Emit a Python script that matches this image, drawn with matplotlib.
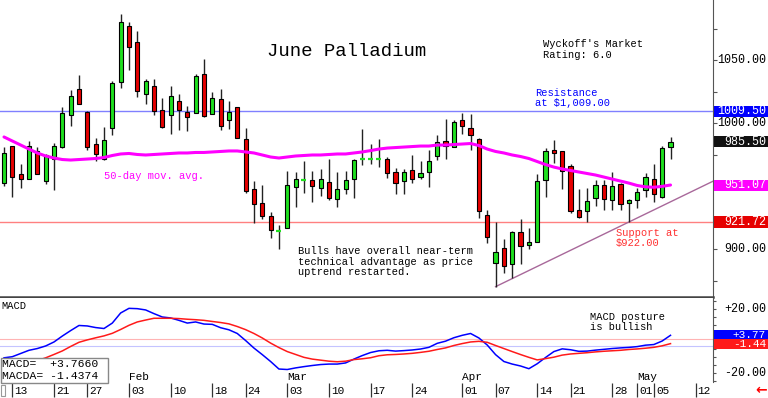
import numpy as np
import matplotlib
matplotlib.use('Agg')
import matplotlib.pyplot as plt
from matplotlib.patches import Rectangle
from matplotlib import transforms

plt.rcParams['font.family'] = ['Liberation Mono', 'DejaVu Sans']

# daily OHLC, June palladium (one entry per trading day)
opens = [952.4, 982.0, 959.8, 955.6, 978.3, 954.2, 971.4, 981.2, 1006.6, 1027.0,
         1009.0, 983.3, 971.4, 996.0, 1032.6, 1077.3, 1064.3, 1023.0, 1029.6, 1010.6,
         1006.6, 1017.5, 1009.3, 1007.9, 1039.2, 1007.2, 1019.3, 1002.4, 1013.2, 987.3,
         947.9, 936.5, 926.5, 914.6, 916.7, 949.2, 954.7, 955.0, 949.0, 953.2,
         939.7, 947.9, 955.6, 971.6, 971.9, 971.9, 971.4, 961.1, 954.5, 963.0,
         957.7, 961.7, 974.1, 986.0, 981.0, 1002.7, 996.3, 987.6, 927.3, 888.9,
         900.8, 888.4, 913.5, 903.5, 905.6, 955.0, 978.9, 978.1, 966.4, 931.2,
         930.4, 941.0, 951.1, 939.2, 951.9, 936.5, 939.2, 947.1, 955.8, 941.3,
         981.0]
highs = [981.5, 982.3, 967.5, 986.0, 981.5, 975.4, 984.7, 1013.2, 1026.5, 1038.6,
         1010.1, 988.1, 997.1, 1033.3, 1086.5, 1080.2, 1073.6, 1034.9, 1035.5, 1019.9,
         1029.9, 1023.6, 1013.8, 1038.9, 1051.3, 1024.6, 1027.0, 1018.0, 1013.2, 996.0,
         954.2, 950.8, 929.9, 919.3, 962.2, 961.1, 970.1, 962.2, 963.8, 971.4,
         961.1, 962.2, 971.4, 995.2, 983.3, 987.6, 973.6, 964.3, 963.5, 974.9,
         970.1, 978.9, 990.8, 1003.2, 1002.7, 1007.9, 1007.4, 988.6, 931.2, 921.9,
         907.9, 914.6, 924.1, 916.7, 959.8, 980.2, 986.8, 978.1, 967.5, 947.6,
         948.4, 955.0, 955.0, 961.7, 952.4, 939.7, 948.4, 960.3, 967.7, 982.3,
         989.4]
lows = [950.3, 941.8, 949.0, 955.6, 959.5, 951.6, 947.1, 980.7, 998.2, 1015.4,
        978.9, 970.1, 970.9, 990.8, 1028.3, 1042.3, 1021.2, 1015.4, 1006.6, 996.0,
        991.5, 994.7, 994.2, 1007.9, 1005.3, 1007.2, 994.7, 995.2, 988.1, 944.5,
        920.7, 924.1, 909.3, 900.0, 916.7, 933.9, 945.0, 937.8, 942.3, 939.2,
        933.4, 943.9, 940.5, 966.9, 967.5, 965.6, 956.4, 943.7, 943.9, 952.4,
        955.8, 949.2, 970.9, 971.7, 981.0, 991.3, 978.9, 924.6, 904.8, 870.4,
        881.0, 877.0, 888.1, 900.3, 905.6, 941.8, 968.8, 947.6, 928.6, 924.6,
        921.9, 934.7, 931.2, 931.2, 931.2, 921.7, 932.6, 941.8, 937.8, 940.5,
        971.7]
closes = [976.7, 957.7, 955.6, 982.0, 960.1, 974.9, 982.0, 1007.9, 1022.0, 1015.4,
          981.5, 975.9, 986.5, 1032.0, 1080.2, 1060.3, 1025.9, 1033.6, 1010.1, 996.8,
          1021.7, 1010.9, 1004.8, 1037.6, 1005.8, 1019.9, 997.9, 1009.3, 988.1, 946.6,
          935.7, 926.7, 915.4, 914.8, 951.1, 955.6, 954.8, 950.5, 955.8, 940.5,
          948.2, 954.8, 970.9, 971.7, 972.0, 972.0, 960.3, 952.4, 961.7, 955.8,
          960.3, 969.9, 985.5, 982.3, 1000.8, 998.2, 991.0, 930.4, 909.5, 897.6,
          887.0, 914.0, 902.9, 905.6, 954.2, 978.1, 976.7, 962.4, 930.7, 925.9,
          938.4, 951.1, 939.7, 950.3, 936.0, 939.2, 945.3, 957.1, 943.7, 980.7,
          985.5]
ma50 = [989.2, 986.0, 982.8, 979.6, 976.5, 974.1, 972.5, 971.3, 970.9, 971.3,
        971.7, 972.1, 972.9, 974.5, 975.7, 976.1, 975.3, 974.9, 975.3, 975.7,
        976.1, 976.5, 976.5, 976.9, 976.9, 977.3, 977.7, 978.1, 978.1, 977.3,
        976.5, 974.9, 973.3, 972.5, 973.3, 974.1, 974.5, 974.9, 974.9, 975.3,
        975.7, 975.7, 976.5, 977.3, 978.4, 979.6, 980.4, 980.8, 981.2, 981.6,
        982.0, 982.0, 982.8, 982.8, 983.2, 983.6, 984.0, 982.4, 979.6, 977.7,
        976.5, 974.9, 973.7, 972.1, 969.7, 967.3, 965.3, 963.8, 962.6, 961.4,
        960.2, 959.0, 957.4, 955.8, 954.2, 952.6, 950.7, 949.6, 949.3, 950.0,
        951.07]
macd = [-10.3, -9.6, -7.6, -5.6, -4.5, -2.9, -0.4, 3.3, 6.7, 9.9,
        9.6, 8.6, 8.0, 11.4, 17.7, 20.6, 20.4, 19.6, 17.3, 15.2,
        14.6, 13.1, 11.4, 12.1, 10.8, 10.6, 8.5, 7.2, 4.9, 0.5,
        -4.2, -8.3, -12.6, -17.3, -17.6, -16.6, -15.8, -15.1, -14.5, -14.2,
        -14.2, -13.5, -11.1, -8.9, -7.0, -5.9, -5.6, -6.1, -5.8, -5.4,
        -4.8, -3.75, -1.25, 0.1, 2.25, 3.75, 4.9, 2.1, -2.3, -8.3,
        -12.6, -14.2, -15.4, -17.1, -14.0, -10.1, -6.4, -4.7, -5.25, -6.25,
        -6.1, -5.5, -5.0, -4.5, -4.1, -3.8, -3.3, -2.4, -2.0, 0.2,
        3.766]
macd_avg = [-19.2, -17.3, -15.4, -13.8, -12.0, -10.3, -8.2, -6.0, -3.2, -0.6,
            0.9, 2.2, 3.4, 5.0, 7.4, 10.0, 12.1, 13.3, 14.4, 14.4,
            14.4, 14.2, 13.8, 13.5, 13.1, 12.4, 11.75, 10.9, 9.25, 7.3,
            4.9, 2.1, -1.1, -3.9, -6.4, -8.2, -10.0, -11.1, -11.75, -12.4,
            -12.75, -12.4, -11.4, -10.9, -10.25, -9.0, -8.4, -8.2, -7.9, -7.5,
            -6.9, -6.2, -5.1, -4.1, -2.6, -1.4, -0.4, 0.0, -0.6, -2.6,
            -4.5, -6.4, -8.25, -10.0, -11.6, -10.8, -9.9, -8.6, -7.9, -7.5,
            -7.1, -6.6, -6.2, -5.9, -5.6, -5.1, -4.75, -4.3, -3.75, -2.8,
            -1.4374]

tick_pos = [1, 6, 10, 15, 20, 25, 29, 34, 39, 44, 49, 55, 59, 64, 68, 73, 76, 78, 83]
tick_lbl = ['13', '21', '27', '03', '10', '18', '24', '03', '10', '17', '24',
            '01', '07', '14', '21', '28', '01', '05', '12']
months = ['Feb', 'Mar', 'Apr', 'May']
month_pos = [15, 34, 55, 76]

resistance = 1009.50
support = 921.72
trend_from, trend_to = 59, 75   # trend line drawn through these two lows
macd_ref_hi, macd_ref_lo = 1.25, -2.75

W, H = 768, 398
GREEN, RED, BLUE, MAG = '#1fe01f', '#e60000', '#0000ff', '#ff00ff'


def fx(px):
    return px / W


def fy(py):
    return 1 - py / H


fig = plt.figure(figsize=(7.68, 3.98), dpi=100)
ax = fig.add_axes([0, fy(297), fx(713), 297 / H])
ax2 = fig.add_axes([0, fy(382), fx(713), 84 / H])
ax3 = fig.add_axes([0, 0, fx(713), 16 / H])

xmin, xmax = -0.48, 85.1
for a in (ax, ax2, ax3):
    a.set_xlim(xmin, xmax)
    a.set_xticks([])
    for s in ('left', 'top', 'bottom', 'right'):
        a.spines[s].set_visible(False)

# ---- price panel
ax.set_ylim(862.2, 1097.9)
ax.spines['bottom'].set_visible(True)
ax.spines['bottom'].set_linewidth(1.8)
ax.spines['bottom'].set_color('#444444')
ax.spines['right'].set_visible(True)
ax.spines['right'].set_color('#555555')
ax.yaxis.tick_right()
ax.set_yticks(np.arange(875, 1076, 25))
ax.set_yticklabels([])
ax.tick_params(axis='y', length=3, width=0.8, color='#555555')

ax.axhline(resistance, color='#8080ff', lw=1, zorder=1)
ax.axhline(support, color='#ff8080', lw=1, zorder=1)

slope = (lows[trend_to] - lows[trend_from]) / (trend_to - trend_from)
tx = np.array([trend_from, xmax])
ax.plot(tx, lows[trend_from] + slope * (tx - trend_from), color='#a8689a', lw=1, zorder=1)

x = np.arange(len(opens))
for i in x:
    o, h, l, c = opens[i], highs[i], lows[i], closes[i]
    ax.vlines(i, l, h, color='#222222', lw=1, zorder=2)
    if abs(c - o) < 0.5:
        ax.hlines(c, i - 0.3, i + 0.3, color=GREEN, lw=1.6, zorder=3)
    else:
        ax.add_patch(Rectangle((i - 0.25, min(o, c)), 0.5, abs(c - o),
                               facecolor=GREEN if c > o else RED,
                               edgecolor='black', lw=0.8, zorder=3))

ax.plot(x, ma50, color=MAG, lw=2.2, zorder=4, solid_capstyle='round')

tr = transforms.blended_transform_factory(fig.transFigure, ax.transData)
for v in (1050, 1000, 900):
    ax.text(fx(766), v, f'{v:.2f}', transform=tr, ha='right', va='center',
            fontsize=8.4, clip_on=False)
hh = 5.5 / 1.26
for v, col in ((resistance, BLUE), (closes[-1], '#111111'), (ma50[-1], MAG), (support, RED)):
    ax.add_patch(Rectangle((fx(714), v - hh), fx(54), 2 * hh, transform=tr,
                           facecolor=col, edgecolor='none', clip_on=False, zorder=5))
    ax.text(fx(766), v, f'{v:.2f}', transform=tr, ha='right', va='center',
            fontsize=8.4, color='white', clip_on=False, zorder=6)

# ---- MACD panel
ax2.set_ylim(-25.4, 27.06)
ax2.spines['right'].set_visible(True)
ax2.spines['right'].set_color('#555555')
ax2.yaxis.tick_right()
ax2.set_yticks(np.arange(-25, 26, 5))
ax2.set_yticklabels([])
ax2.tick_params(axis='y', length=2.5, width=0.8, color='#555555')
ax2.axhline(macd_ref_hi, color='#ffb4b4', lw=0.8)
ax2.axhline(macd_ref_lo, color='#c4c4ff', lw=0.8)
ax2.plot(x, macd, color=BLUE, lw=1.1)
ax2.plot(x, macd_avg, color='#ff1a1a', lw=1.1)

tr2 = transforms.blended_transform_factory(fig.transFigure, ax2.transData)
for v in (20, -20):
    ax2.text(fx(766), v, f'{v:+.2f}', transform=tr2, ha='right', va='center',
             fontsize=8.4, clip_on=False)
# the two value tags sit stacked, split halfway between the two readings
mid = (macd[-1] + macd_avg[-1]) / 2
tag_h = 9.5 / 1.6
for v, col, y0 in ((macd[-1], BLUE, mid), (macd_avg[-1], '#ff1a1a', mid - tag_h)):
    ax2.add_patch(Rectangle((fx(714), y0), fx(54), tag_h, transform=tr2,
                            facecolor=col, edgecolor='none', clip_on=False, zorder=5))
    ax2.text(fx(766), y0 + tag_h / 2, f'{v:+.2f}', transform=tr2, ha='right', va='center',
             fontsize=8, color='white', clip_on=False, zorder=6)

for m, p in zip(months, month_pos):
    ax2.text(p, -22.3, m, ha='left', va='center', fontsize=8)

# ---- date row
ax3.set_ylim(0, 1)
ax3.set_yticks([])
ax3.vlines(tick_pos, 0.08, 0.92, color='#333333', lw=0.9)
for p, lbl in zip(tick_pos, tick_lbl):
    ax3.text(p + 0.25, 0.45, lbl, ha='left', va='center', fontsize=8)

# ---- annotations
fig.text(fx(267), fy(52), 'June Palladium', fontsize=13.7, va='center')
fig.text(fx(543), fy(44), "Wyckoff's Market", fontsize=7.5, va='center')
fig.text(fx(543), fy(55), 'Rating: 6.0', fontsize=7.5, va='center')
fig.text(fx(535), fy(93), 'Resistance', fontsize=7.5, va='center', color=BLUE)
fig.text(fx(535), fy(103), 'at $1,009.00', fontsize=7.5, va='center', color=BLUE)
fig.text(fx(104), fy(176), '50-day mov. avg.', fontsize=7.5, va='center', color=MAG)
fig.text(fx(298), fy(251), 'Bulls have overall near-term', fontsize=7.5, va='center')
fig.text(fx(298), fy(262), 'technical advantage as price', fontsize=7.5, va='center')
fig.text(fx(298), fy(272), 'uptrend restarted.', fontsize=7.5, va='center')
fig.text(fx(616), fy(233), 'Support at', fontsize=7.5, va='center', color='#ff3030')
fig.text(fx(616), fy(243), '$922.00', fontsize=7.5, va='center', color='#ff3030')
fig.text(fx(1), fy(306), 'MACD', fontsize=7.5, va='center')
fig.text(fx(590), fy(317), 'MACD posture', fontsize=7.5, va='center')
fig.text(fx(590), fy(327), 'is bullish', fontsize=7.5, va='center')

fig.add_artist(Rectangle((fx(0.5), fy(382.5)), fx(107.5), 24.5 / H, transform=fig.transFigure,
                         facecolor='white', edgecolor='#888888', lw=1, zorder=5))
fig.text(fx(2), fy(364), f'MACD=  {macd[-1]:+.4f}', fontsize=8.2, va='center', zorder=6)
fig.text(fx(2), fy(376), f'MACDA= {macd_avg[-1]:+.4f}', fontsize=8.2, va='center', zorder=6)
fig.add_artist(Rectangle((fx(0.5), fy(396)), fx(4), 11 / H, transform=fig.transFigure,
                         facecolor='none', edgecolor='#999999', lw=0.8))
fig.text(fx(767), fy(390), '\u2190', fontsize=10, color='red', fontweight='bold',
         ha='right', va='center', family='DejaVu Sans')

fig.savefig('out.png', dpi=100, facecolor='white')
